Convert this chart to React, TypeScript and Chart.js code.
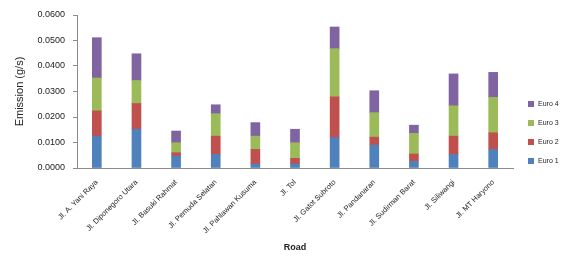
import React, { useEffect, useRef } from "react";
import { Chart, registerables } from "chart.js";

Chart.register(...registerables);

const categories = [
  "Jl. A. Yani Raya",
  "Jl. Diponegoro Utara",
  "Jl. Basuki Rahmat",
  "Jl. Pemuda Selatan",
  "Jl. Pahlawan Kusuma",
  "Jl. Tol",
  "Jl. Gatot Subroto",
  "Jl. Pandanaran",
  "Jl. Sudirman Barat",
  "Jl. Siliwangi",
  "Jl. MT Haryono",
];

const euro1 = [0.0125, 0.0152, 0.0046, 0.0053, 0.0015, 0.0016, 0.0119, 0.009, 0.0026, 0.0053, 0.0073];
const euro2 = [0.0099, 0.0101, 0.0014, 0.0072, 0.0058, 0.0022, 0.016, 0.0031, 0.0029, 0.0072, 0.0065];
const euro3 = [0.0129, 0.009, 0.0039, 0.0088, 0.0052, 0.0061, 0.0189, 0.0096, 0.0081, 0.0119, 0.0139];
const euro4 = [0.0158, 0.0105, 0.0046, 0.0035, 0.0053, 0.0053, 0.0085, 0.0086, 0.0032, 0.0125, 0.0098];

const seriesNames = ["Euro 1", "Euro 2", "Euro 3", "Euro 4"];
const seriesColors = ["#4F81BD", "#C0504D", "#9BBB59", "#8064A2"];

const yTicks = [0, 0.01, 0.02, 0.03, 0.04, 0.05, 0.06];

const FONT = "'Liberation Sans', Arial, sans-serif";

export default function App() {
  const ref = useRef<HTMLCanvasElement | null>(null);
  useEffect(() => {
    if (!ref.current) return;
    const values = [euro1, euro2, euro3, euro4];
    const chart = new Chart(ref.current, {
      type: "bar",
      data: {
        labels: categories,
        datasets: values.map((v, i) => ({
          label: seriesNames[i],
          data: v,
          backgroundColor: seriesColors[i],
          borderWidth: 0,
          barThickness: 9,
        })),
      },
      options: {
        animation: false,
        responsive: false,
        maintainAspectRatio: false,
        layout: { padding: { top: 15, right: 69, bottom: 0, left: 0 } },
        plugins: { legend: { display: false }, tooltip: { enabled: false } },
        scales: {
          x: {
            stacked: true,
            grid: { display: false },
            border: { display: true, color: "#8c8c8c", width: 1 },
            ticks: {
              autoSkip: false,
              maxRotation: 45,
              minRotation: 45,
              color: "#222",
              font: { family: FONT, size: 7.5 },
              padding: 2,
            },
            title: {
              display: true,
              text: "Road",
              color: "#222",
              font: { family: FONT, size: 9, weight: "bold" },
              padding: { top: 0, bottom: 4 },
            },
            afterFit: (s: any) => {
              s.height = 89;
            },
          },
          y: {
            stacked: true,
            min: 0,
            max: 0.06,
            afterBuildTicks: (s: any) => {
              s.ticks = yTicks.map((v) => ({ value: v }));
            },
            grid: {
              display: true,
              drawOnChartArea: false,
              drawTicks: true,
              tickLength: 4,
              color: "#8c8c8c",
            },
            border: { display: true, color: "#8c8c8c", width: 1 },
            ticks: {
              color: "#222",
              font: { family: FONT, size: 9 },
              padding: 8,
              callback: (v: any) => Number(v).toFixed(4),
            },
            title: {
              display: true,
              text: "Emission (g/s)",
              color: "#222",
              font: { family: FONT, size: 11 },
              padding: { top: 13, bottom: 4 },
            },
            afterFit: (s: any) => {
              s.width = 77;
            },
          },
        },
      },
    });
    return () => chart.destroy();
  }, []);

  const legendOrder = [3, 2, 1, 0];
  return (
    <div style={{ position: "fixed", left: 0, top: 0, width: 582, height: 257, background: "#fff" }}>
      <canvas ref={ref} width={582} height={257} style={{ display: "block" }} />
      <div
        style={{
          position: "absolute",
          left: 528,
          top: 94,
          fontFamily: FONT,
          fontSize: 7,
          color: "#222",
        }}
      >
        {legendOrder.map((i) => (
          <div key={i} style={{ display: "flex", alignItems: "center", height: 19 }}>
            <span
              style={{
                display: "inline-block",
                width: 6,
                height: 6,
                background: seriesColors[i],
                marginRight: 4,
              }}
            />
            <span>{seriesNames[i]}</span>
          </div>
        ))}
      </div>
    </div>
  );
}
